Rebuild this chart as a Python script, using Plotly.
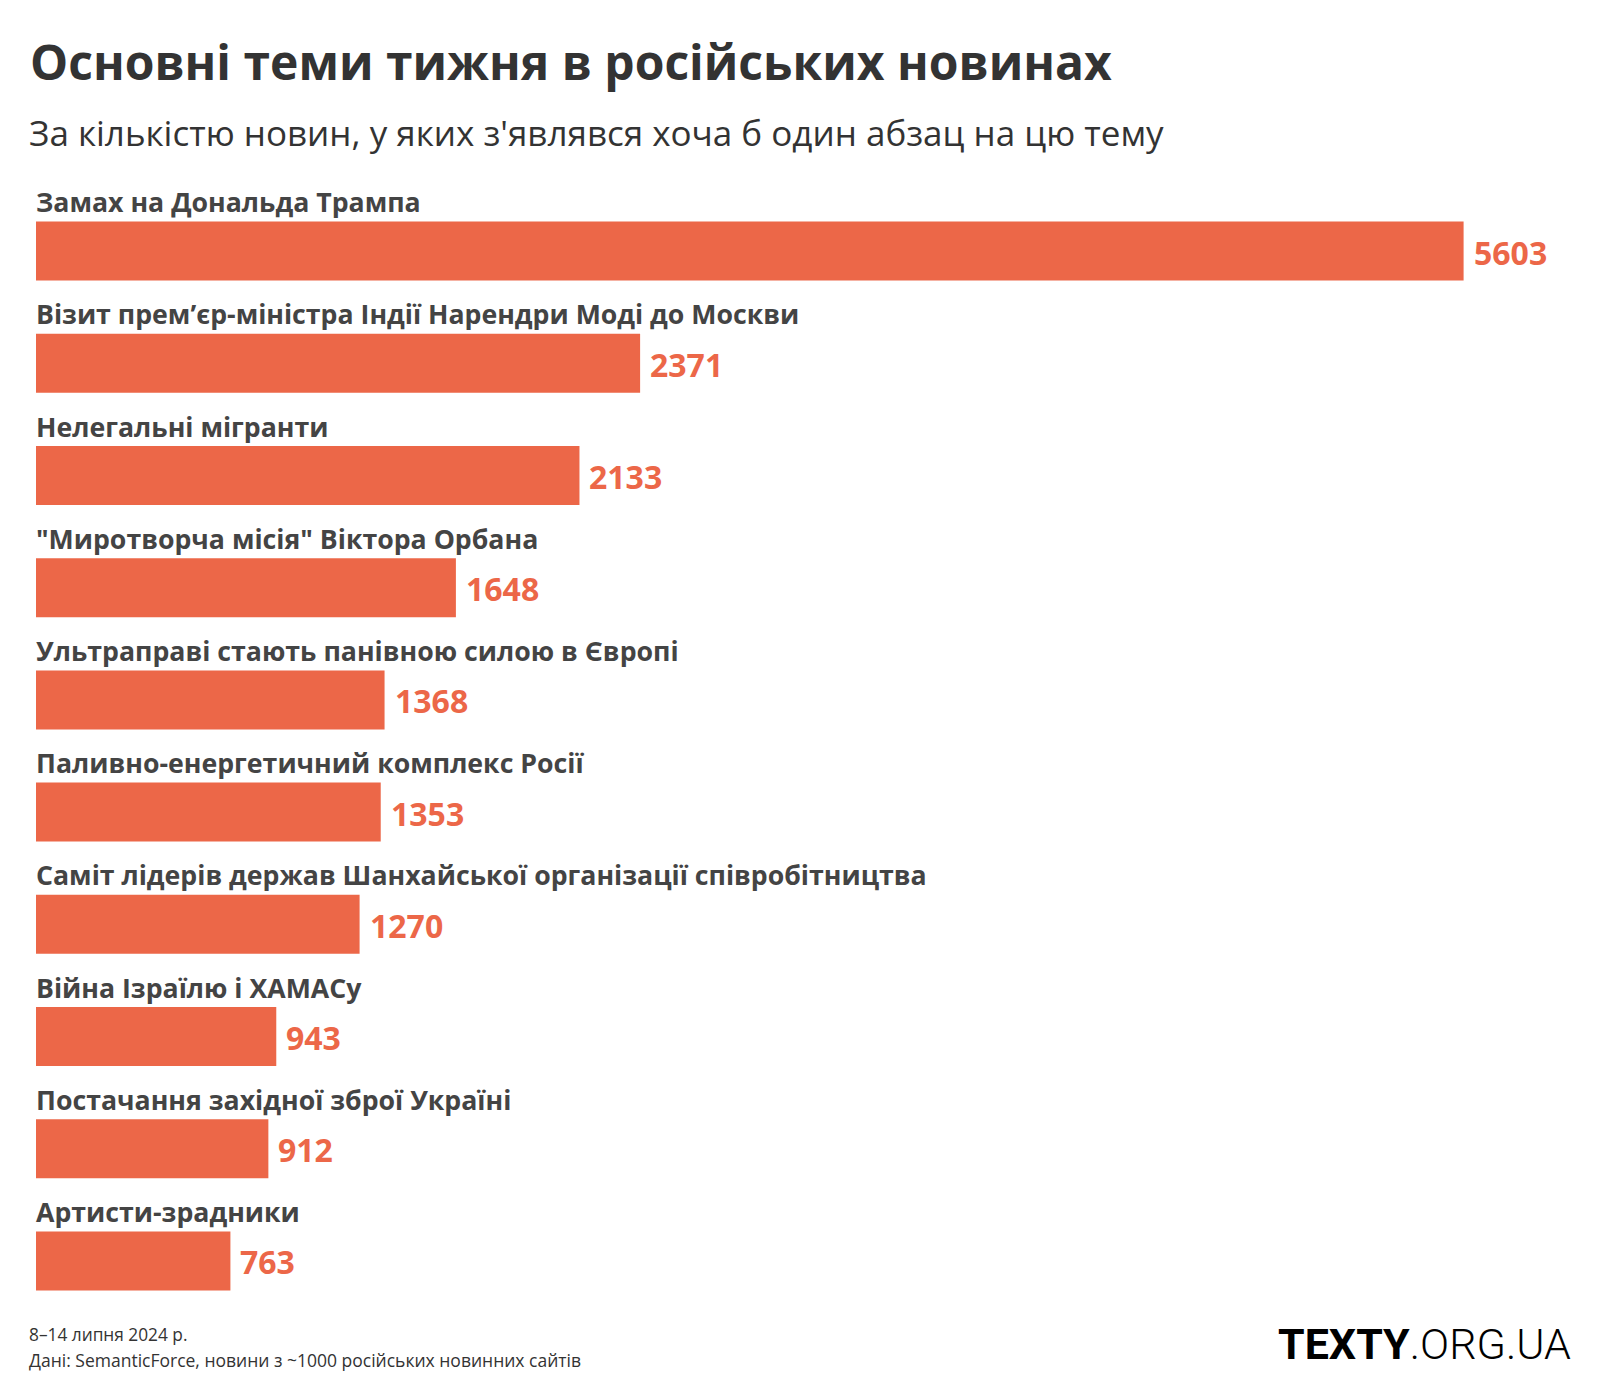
import plotly.graph_objects as go

categories = [
    "Замах на Дональда Трампа",
    "Візит прем’єр-міністра Індії Нарендри Моді до Москви",
    "Нелегальні мігранти",
    "\"Миротворча місія\" Віктора Орбана",
    "Ультраправі стають панівною силою в Європі",
    "Паливно-енергетичний комплекс Росії",
    "Саміт лідерів держав Шанхайської організації співробітництва",
    "Війна Ізраїлю і ХАМАСу",
    "Постачання західної зброї Україні",
    "Артисти-зрадники",
]
values = [5603, 2371, 2133, 1648, 1368, 1353, 1270, 943, 912, 763]

title = "Основні теми тижня в російських новинах"
subtitle = "За кількістю новин, у яких з'являвся хоча б один абзац на цю тему"
footer1 = "8–14 липня 2024 р."
footer2 = "Дані: SemanticForce, новини з ~1000 російських новинних сайтів"

OFF = 8  # default page body margin
W, H = 1600 - 2 * OFF, 1400 - 2 * OFF
ML, MR, MT = 28, 0, 187
MB = H - (1317 - OFF)
PW, PH = W - ML - MR, H - MT - MB
PX_PER_UNIT = (1463.3 - 35.7) / 5603
XMAX = PW / PX_PER_UNIT

BAR = "#EC6748"
FONT = "Open Sans"


def xp(px):
    return (px - OFF - ML) / PW


def yp(py):
    return (H - MB - (py - OFF)) / PH


fig = go.Figure()
fig.add_trace(go.Bar(
    x=values, y=categories, orientation="h",
    marker=dict(color=BAR, line=dict(width=0)),
    hoverinfo="skip",
))

ann = []
for c, v in zip(categories, values):
    ann.append(dict(x=0, y=c, xref="x", yref="y", text=c, showarrow=False,
                    xanchor="left", yanchor="bottom", yshift=29, xshift=-2,
                    font=dict(family=FONT, size=26.7, color="#444444", weight=700)))
    ann.append(dict(x=v, y=c, xref="x", yref="y", text=str(v), showarrow=False,
                    xanchor="left", yanchor="middle", xshift=8, yshift=-1,
                    font=dict(family=FONT, size=32, color=BAR, weight=700)))

ann.append(dict(x=xp(28), y=yp(62), xref="paper", yref="paper", text=title,
                showarrow=False, xanchor="left", yanchor="middle",
                font=dict(family=FONT, size=48, color="#333333", weight=700)))
ann.append(dict(x=xp(27), y=yp(132), xref="paper", yref="paper", text=subtitle,
                showarrow=False, xanchor="left", yanchor="middle",
                font=dict(family=FONT, size=35, color="#333333")))
ann.append(dict(x=xp(27), y=yp(1334), xref="paper", yref="paper", text=footer1,
                showarrow=False, xanchor="left", yanchor="middle",
                font=dict(family=FONT, size=17.3, color="#333333")))
ann.append(dict(x=xp(27), y=yp(1360), xref="paper", yref="paper", text=footer2,
                showarrow=False, xanchor="left", yanchor="middle",
                font=dict(family=FONT, size=17.5, color="#333333")))
ann.append(dict(x=xp(1573), y=yp(1344), xref="paper", yref="paper",
                text="<b>TEXTY</b>.ORG.UA",
                showarrow=False, xanchor="right", yanchor="middle",
                font=dict(family="Roboto", size=43, color="#000000", weight=300)))

fig.update_layout(
    width=W, height=H,
    margin=dict(l=ML, r=MR, t=MT, b=MB, pad=0),
    paper_bgcolor="white", plot_bgcolor="white",
    bargap=0.474,
    showlegend=False,
    xaxis=dict(range=[0, XMAX], visible=False, fixedrange=True),
    yaxis=dict(categoryorder="array", categoryarray=categories,
               range=[len(categories) - 0.5, -0.5], visible=False, fixedrange=True),
    annotations=ann,
)

fig.write_html("out.html", config={"displayModeBar": False})
